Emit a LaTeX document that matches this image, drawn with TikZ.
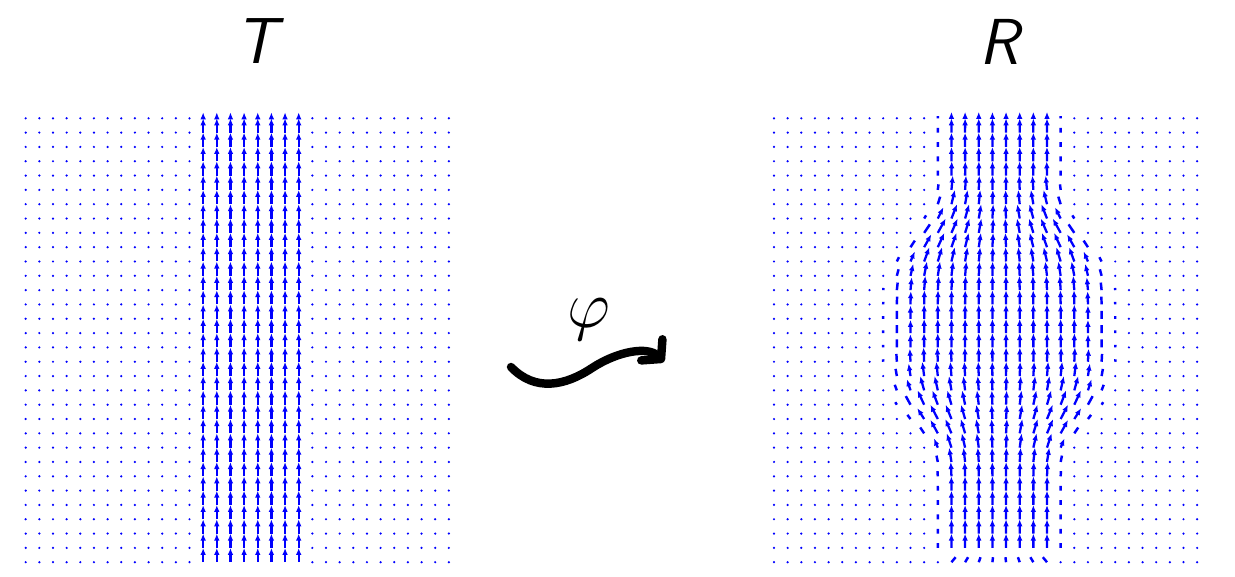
\RequirePackage{fix-cm}
\documentclass[tikz,border=0pt]{standalone}
\usepackage{amsmath}
\usetikzlibrary{arrows.meta}

\newcommand{\colstep}{13.65}
\newcommand{\rowstep}{14.32}

\begin{document}
\begin{tikzpicture}[x=0.2mm, y=-0.2mm,
  fieldarrow/.style={blue, line width=1.3pt, -{Latex[length=4pt, width=3.2pt]}},
  fieldtick/.style={blue, line width=1.4pt},
  fielddot/.style={blue},
  title/.style={inner sep=0pt, font=\fontsize{37}{40}\selectfont\sffamily\itshape}]

\useasboundingbox (0,0) rectangle (1235,577);

% Titles
\node[title] (tlabel) at (256,41) {T};
\node[title] (rlabel) at (999,42) {R};

% --- Field T: straight vertical band ---
\foreach \i in {0,...,31}{
  \foreach \j in {0,...,31}{
    \pgfmathsetmacro{\px}{25.7+\i*\colstep}
    \pgfmathsetmacro{\py}{118.3+\j*\rowstep}
    \pgfmathtruncatemacro{\inband}{(\i>12)&&(\i<21)}
    \ifnum\inband=1
      \pgfmathsetmacro{\len}{(\j==0) ? 6 : \rowstep}
      \draw[fieldarrow] (\px,\py) -- ++(0,-\len);
    \else
      \fill[fielddot] (\px,\py) circle (0.7pt);
    \fi
  }
}

% --- Field R: the band bulged out in the middle ---
\foreach \i in {0,...,31}{
  \foreach \j in {0,...,31}{
    \pgfmathsetmacro{\px}{774+\i*\colstep}
    \pgfmathsetmacro{\py}{118.3+\j*\rowstep}
    \pgfmathsetmacro{\off}{\i-16.5}
    \pgfmathsetmacro{\uu}{(\j-14.75)/7}
    \pgfmathsetmacro{\bump}{exp(-\uu*\uu*\uu*\uu)}
    \pgfmathsetmacro{\sw}{1+0.8*\bump}
    \pgfmathsetmacro{\swp}{-3.2*\bump*\uu*\uu*\uu/7}
    \pgfmathsetmacro{\orig}{\off/\sw}
    \pgfmathsetmacro{\mag}{min(1,max(0,(5-abs(\orig))/1.5))}
    \pgfmathsetmacro{\rowf}{(\j==0) ? 0.45 : ((\j==31) ? 0.35 : 1)}
    \pgfmathsetmacro{\vx}{(\j==31) ? (-0.25*\off*\colstep) : (-\orig*\swp*\colstep)}
    \pgfmathtruncatemacro{\kind}{((\mag*((\j==31) ? 0.35 : 1))<0.15) ? 0 : (((\mag<0.6)||(\j==31)) ? 1 : 2)}
    \ifcase\kind
      \fill[fielddot] (\px,\py) circle (0.7pt);
    \or
      \draw[fieldtick] (\px,\py) -- ++({\mag*\rowf*\vx},{-\mag*\rowf*\rowstep});
    \or
      \draw[fieldarrow] (\px,\py) -- ++({\mag*\rowf*\vx},{-\mag*\rowf*\rowstep});
    \fi
  }
}

% --- Warp arrow ---
\coordinate (warpstart) at (511,367);
\coordinate (warpend) at (664,362);
\draw[line width=4.8pt, line cap=round, -{Straight Barb[length=2.6mm, width=6mm, round]}]
  (warpstart) .. controls (535,392) and (565,386) .. (592,368)
  .. controls (618,351) and (648,346) .. (warpend);
\node[inner sep=0pt, font=\fontsize{38}{40}\selectfont] (philabel) at (589,320) {$\varphi$};

\end{tikzpicture}
\end{document}
